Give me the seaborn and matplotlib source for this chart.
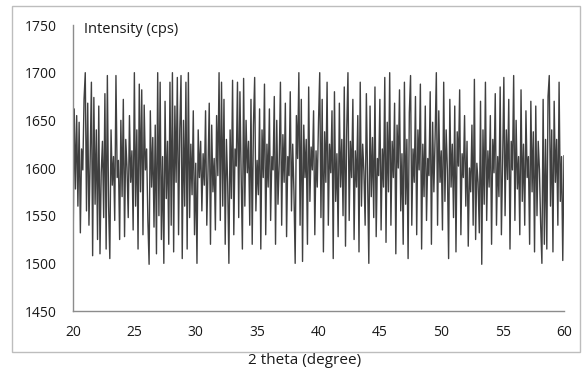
import numpy as np
import pandas as pd
import matplotlib
matplotlib.use('Agg')
import matplotlib.pyplot as plt
from matplotlib.patches import Rectangle
import seaborn as sns

# 2 theta from 20 to 60 degree, step 0.1
theta_start = 20.0
theta_step = 0.1

# intensity (cps), one degree per row
intensity = [
    1500, 1662, 1578, 1655, 1560, 1648, 1532, 1620, 1598, 1672,
    1700, 1555, 1668, 1540, 1610, 1690, 1508, 1674, 1562, 1640,
    1525, 1665, 1510, 1595, 1628, 1548, 1678, 1515, 1697, 1560,
    1505, 1640, 1582, 1612, 1545, 1697, 1590, 1608, 1525, 1650,
    1570, 1672, 1528, 1630, 1600, 1548, 1655, 1585, 1618, 1535,
    1700, 1560, 1640, 1515, 1688, 1575, 1682, 1530, 1666, 1598,
    1620, 1545, 1499, 1660, 1580, 1632, 1538, 1645, 1510, 1700,
    1550, 1690, 1525, 1612, 1500, 1670, 1568, 1628, 1520, 1690,
    1540, 1700, 1512, 1665, 1585, 1695, 1530, 1640, 1697, 1505,
    1650, 1560, 1690, 1515, 1700, 1548, 1625, 1572, 1660, 1530,
    1605, 1500, 1640, 1590, 1628, 1555, 1615, 1582, 1660, 1540,
    1598, 1668, 1520, 1645, 1575, 1610, 1535, 1655, 1592, 1700,
    1545, 1690, 1560, 1672, 1520, 1630, 1585, 1500, 1640, 1568,
    1692, 1530, 1620, 1602, 1690, 1548, 1680, 1592, 1515, 1694,
    1560, 1650, 1595, 1628, 1540, 1672, 1520, 1645, 1695, 1555,
    1608, 1572, 1662, 1515, 1640, 1590, 1688, 1530, 1625, 1580,
    1662, 1545, 1612, 1598, 1675, 1520, 1650, 1562, 1605, 1690,
    1540, 1635, 1585, 1668, 1528, 1612, 1592, 1680, 1555, 1625,
    1575, 1500, 1655, 1610, 1700, 1540, 1672, 1502, 1645, 1590,
    1630, 1520, 1685, 1565, 1622, 1598, 1660, 1530, 1618, 1580,
    1648, 1700, 1548, 1672, 1512, 1638, 1585, 1690, 1540, 1625,
    1595, 1660, 1505, 1680, 1565, 1615, 1528, 1668, 1580, 1630,
    1550, 1685, 1518, 1640, 1700, 1545, 1628, 1590, 1672, 1525,
    1618, 1580, 1655, 1512, 1690, 1560, 1625, 1596, 1540, 1678,
    1585, 1500, 1665, 1570, 1632, 1548, 1685, 1528, 1610, 1592,
    1672, 1535, 1620, 1580, 1695, 1522, 1648, 1575, 1700, 1540,
    1628, 1590, 1668, 1510, 1645, 1600, 1682, 1555, 1615, 1520,
    1690, 1562, 1630, 1505, 1658, 1697, 1540, 1620, 1585, 1675,
    1530, 1640, 1598, 1688, 1515, 1625, 1570, 1665, 1545, 1610,
    1592, 1680, 1520, 1648, 1575, 1632, 1700, 1540, 1660, 1585,
    1618, 1535, 1690, 1565, 1640, 1598, 1505, 1672, 1580, 1625,
    1548, 1665, 1512, 1638, 1602, 1682, 1530, 1615, 1590, 1655,
    1560, 1628, 1518, 1600, 1575, 1645, 1540, 1693, 1525, 1605,
    1585, 1532, 1670, 1499, 1640, 1562, 1690, 1545, 1618, 1580,
    1655, 1520, 1630, 1595, 1678, 1540, 1612, 1570, 1685, 1530,
    1605, 1695, 1550, 1640, 1588, 1672, 1515, 1628, 1598, 1697,
    1545, 1650, 1578, 1612, 1530, 1682, 1565, 1625, 1540, 1660,
    1590, 1612, 1520, 1670, 1575, 1638, 1512, 1665, 1550, 1628,
    1598, 1540, 1500, 1672, 1520, 1630, 1515, 1675, 1697, 1560,
    1640, 1512, 1670, 1585, 1630, 1540, 1690, 1565, 1612, 1503,
    1613,
]

x_ticks = [20, 25, 30, 35, 40, 45, 50, 55, 60]
y_ticks = [1450, 1500, 1550, 1600, 1650, 1700, 1750]

df = pd.DataFrame({'intensity': intensity})
df['theta'] = theta_start + theta_step * np.arange(len(df))

sns.set_style('white')
plt.rcParams['font.family'] = ['Open Sans', 'DejaVu Sans']

fig = plt.figure(figsize=(5.83, 3.79), dpi=100)
ax = fig.add_axes([0.1252, 0.1794, 0.8422, 0.7546])

sns.lineplot(data=df, x='theta', y='intensity', ax=ax, color='#404040', linewidth=1.0)

ax.set_xlim(20, 60)
ax.set_ylim(1450, 1750)
ax.set_xticks(x_ticks)
ax.set_yticks(y_ticks)
ax.tick_params(axis='both', length=0, labelsize=10, colors='#1a1a1a')
ax.tick_params(axis='y', pad=12)
ax.tick_params(axis='x', pad=10)
ax.set_xlabel('')
ax.set_ylabel('')

for side in ['top', 'right']:
    ax.spines[side].set_visible(False)
for side in ['left', 'bottom']:
    ax.spines[side].set_color('#8c8c8c')
    ax.spines[side].set_linewidth(1)

ax.text(0.022, 0.986, 'Intensity (cps)', transform=ax.transAxes,
        ha='left', va='center', fontsize=10.5, color='#1a1a1a')

fig.text(0.523, 0.05, '2 theta (degree)', ha='center', va='center',
         fontsize=11, color='#1a1a1a')

# light frame round the chart area
fig.patches.append(Rectangle((12 / 583, 1 - 352 / 379), 568 / 583, 346 / 379,
                             transform=fig.transFigure, fill=False,
                             edgecolor='#bdbdbd', linewidth=1))

fig.savefig('out.png', dpi=100)
